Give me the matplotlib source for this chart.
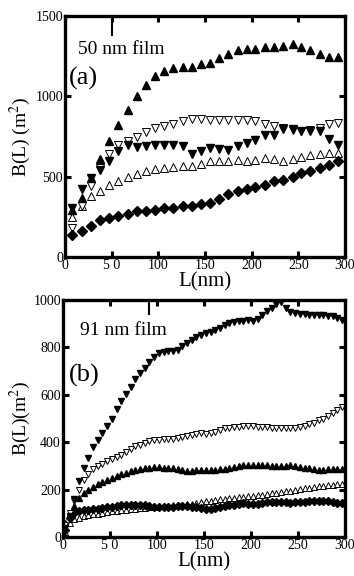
import numpy as np
import matplotlib
matplotlib.use("Agg")
import matplotlib.pyplot as plt

plt.rcParams['font.family'] = ['Liberation Serif', 'DejaVu Serif']
plt.rcParams['mathtext.fontset'] = 'stix'

# ---------------- panel (a): 50 nm film ----------------
xa = [8, 18, 28, 38, 47, 57, 67, 77, 87, 96, 106, 116, 126, 136, 146,
      155, 165, 175, 185, 195, 204, 214, 224, 234, 244, 253, 263, 273, 283, 293]
a_up_filled = [295, 370, 490, 610, 720, 820, 915, 1000, 1070, 1127, 1158, 1174, 1180, 1185, 1200,
               1205, 1237, 1262, 1290, 1294, 1294, 1306, 1310, 1315, 1325, 1306, 1290, 1266, 1245, 1245]
a_down_open = [180, 315, 440, 555, 640, 700, 725, 750, 775, 800, 815, 830, 845, 860, 858,
               852, 852, 852, 852, 852, 846, 829, 818, 800, 790, 785, 790, 800, 825, 833]
a_down_filled = [308, 425, 490, 540, 600, 662, 700, 685, 690, 694, 700, 694, 690, 641, 660,
                 679, 675, 669, 690, 710, 731, 762, 762, 794, 794, 783, 783, 783, 737, 700]
a_up_open = [252, 320, 377, 410, 450, 475, 495, 515, 535, 550, 555, 560, 565, 565, 580,
             595, 600, 600, 605, 600, 605, 615, 610, 595, 610, 625, 635, 640, 650, 645]
a_diamond = [137, 162, 195, 230, 245, 255, 265, 285, 285, 295, 305, 305, 315, 315, 330,
             335, 360, 390, 410, 425, 435, 450, 470, 480, 500, 520, 535, 555, 570, 600]

# ---------------- panel (b): 91 nm film ----------------
xb = [2, 7, 12, 17, 22, 27, 32, 37, 42, 47, 52, 57, 62, 67, 72, 77, 82, 87, 92, 97,
      102, 107, 112, 117, 122, 127, 132, 137, 142, 147, 152, 157, 162, 167, 172, 177, 182, 187, 192, 197,
      202, 207, 212, 217, 222, 227, 232, 237, 242, 247, 252, 257, 262, 267, 272, 277, 282, 287, 292, 297]
b_down_filled = [40, 90, 160, 235, 290, 335, 380, 410, 440, 470, 500, 540, 575, 605, 635, 665, 690, 715, 740, 760,
                 775, 782, 785, 783, 790, 805, 820, 832, 843, 852, 860, 866, 873, 882, 893, 902, 908, 912, 913, 914,
                 913, 920, 935, 952, 968, 985, 990, 965, 950, 945, 942, 940, 938, 937, 937, 935, 934, 933, 925, 915]
b_down_open = [50, 100, 150, 200, 240, 265, 285, 300, 310, 320, 330, 338, 348, 360, 372, 382, 390, 398, 404, 408,
               410, 412, 413, 415, 418, 422, 427, 432, 436, 438, 436, 438, 445, 452, 458, 462, 464, 466, 468, 470,
               468, 466, 464, 463, 462, 460, 458, 458, 458, 460, 463, 468, 475, 483, 492, 500, 510, 522, 535, 550]
b_up_filled = [60, 100, 130, 165, 185, 200, 210, 222, 232, 242, 250, 258, 265, 272, 278, 283, 287, 290, 293, 295,
               294, 292, 293, 290, 285, 282, 280, 280, 281, 282, 283, 283, 284, 286, 287, 290, 295, 300, 303, 305,
               305, 304, 303, 302, 300, 298, 298, 300, 302, 300, 296, 293, 290, 286, 284, 284, 285, 286, 287, 287]
b_diamond = [30, 80, 100, 108, 113, 116, 118, 120, 123, 126, 128, 131, 134, 137, 136, 134, 135, 133, 130, 128,
             127, 125, 126, 128, 130, 130, 129, 127, 125, 122, 120, 120, 122, 126, 130, 134, 137, 140, 142, 141,
             138, 140, 144, 147, 148, 148, 147, 146, 145, 146, 148, 149, 150, 150, 150, 151, 150, 148, 145, 142]
b_up_open = [20, 60, 75, 82, 88, 92, 96, 99, 102, 105, 108, 111, 113, 115, 117, 119, 121, 124, 125, 127,
             129, 130, 131, 133, 135, 137, 139, 141, 143, 146, 150, 152, 155, 159, 161, 164, 166, 168, 170, 172,
             173, 176, 178, 181, 185, 187, 190, 193, 196, 199, 202, 205, 208, 211, 214, 217, 219, 221, 223, 224]

x_ticks = [0, 50, 100, 150, 200, 250, 300]
x_ticklabels = ["0", "5 0", "100", "150", "200", "250", "300"]
ya_ticks = [0, 500, 1000, 1500]
yb_ticks = [0, 200, 400, 600, 800, 1000]

fig = plt.figure(figsize=(3.54, 5.76), dpi=100)
axa = fig.add_axes([65/354, 1-257/576, 280/354, 241/576])
axb = fig.add_axes([63/354, 1-537/576, 282/354, 237/576])


def style(ax, yticks, ylim):
    ax.set_xlim(0, 300)
    ax.set_ylim(*ylim)
    ax.set_xticks(x_ticks)
    ax.set_xticklabels(x_ticklabels)
    ax.set_yticks(yticks)
    ax.set_yticklabels([str(t) for t in yticks])
    for s in ax.spines.values():
        s.set_linewidth(2.4)
    ax.tick_params(direction='in', length=4, width=2.2, top=True, right=True,
                   labelsize=10, pad=1.5)
    ax.set_xlabel("L(nm)", fontsize=15, labelpad=0)


ms_a = 6.2
axa.plot(xa, a_up_open, ls='none', marker='^', ms=ms_a, mfc='white', mec='black', mew=0.7)
axa.plot(xa, a_down_open, ls='none', marker='v', ms=ms_a, mfc='white', mec='black', mew=0.7)
axa.plot(xa, a_diamond, ls='none', marker='D', ms=5.2, mfc='black', mec='black')
axa.plot(xa, a_down_filled, ls='none', marker='v', ms=ms_a, mfc='black', mec='black')
axa.plot(xa, a_up_filled, ls='none', marker='^', ms=ms_a, mfc='black', mec='black')
axa.plot([50, 50], [1500, 1380], color='black', lw=1.5)
style(axa, ya_ticks, (0, 1500))
axa.set_ylabel("B(L) (m$^2$)", fontsize=14, labelpad=2)
axa.text(14, 1290, "50 nm film", fontsize=14, va='center', ha='left')
axa.text(4, 1110, "(a)", fontsize=19, va='center', ha='left')

ms_b = 4.8
axb.plot(xb, b_up_open, ls='none', marker='^', ms=ms_b, mfc='white', mec='black', mew=0.7)
axb.plot(xb, b_diamond, ls='none', marker='D', ms=4.0, mfc='black', mec='black')
axb.plot(xb, b_up_filled, ls='none', marker='^', ms=ms_b, mfc='black', mec='black')
axb.plot(xb, b_down_open, ls='none', marker='v', ms=ms_b, mfc='white', mec='black', mew=0.7)
axb.plot(xb, b_down_filled, ls='none', marker='v', ms=ms_b, mfc='black', mec='black')
axb.plot([91, 91], [1000, 940], color='black', lw=1.5)
style(axb, yb_ticks, (0, 1000))
axb.set_ylabel("B(L)(m$^2$)", fontsize=14, labelpad=0)
axb.text(18, 870, "91 nm film", fontsize=14, va='center', ha='left')
axb.text(6, 680, "(b)", fontsize=19, va='center', ha='left')

fig.savefig("out.png", dpi=100)
